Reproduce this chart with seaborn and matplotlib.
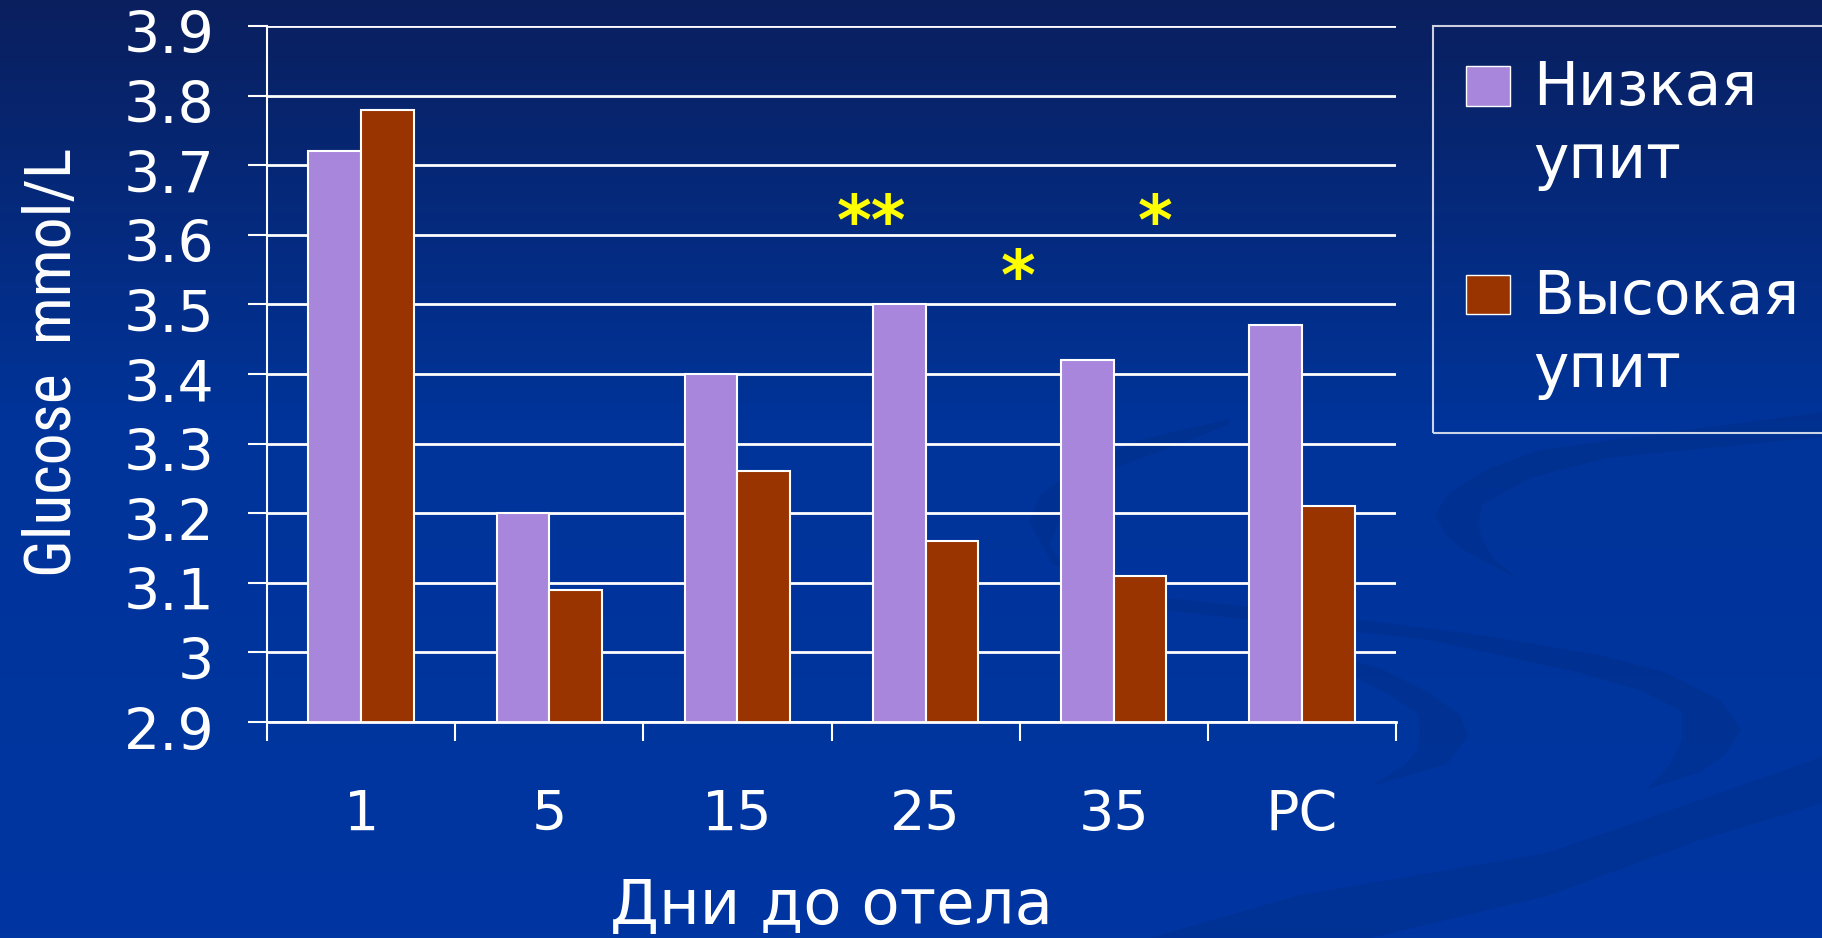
import numpy as np
import pandas as pd
import matplotlib
matplotlib.use("Agg")
import matplotlib.pyplot as plt
import seaborn as sns
from matplotlib.patches import Rectangle, PathPatch
from matplotlib.path import Path
from matplotlib.legend_handler import HandlerPatch
from matplotlib import font_manager as fm
from matplotlib.colors import LinearSegmentedColormap
from matplotlib.transforms import ScaledTranslation

# ---- data ----
days = ["1", "5", "15", "25", "35", "PC"]
low_condition = [3.72, 3.20, 3.40, 3.50, 3.42, 3.47]
high_condition = [3.78, 3.09, 3.26, 3.16, 3.11, 3.21]
group_names = ["Низкая\nупит", "Высокая\nупит"]
group_colors = ["#A886DC", "#993300"]
y_ticks = [2.9, 3.0, 3.1, 3.2, 3.3, 3.4, 3.5, 3.6, 3.7, 3.8, 3.9]
y_tick_labels = ["2.9", "3", "3.1", "3.2", "3.3", "3.4", "3.5", "3.6", "3.7", "3.8", "3.9"]
sig_marks = ["**", "*", "*"]
sig_x = [2.71, 3.49, 4.22]
sig_y = [3.614, 3.535, 3.614]

df = pd.DataFrame({
    "day": days * 2,
    "glucose": low_condition + high_condition,
    "group": [group_names[0]] * len(days) + [group_names[1]] * len(days),
})

sns.set_theme(style="white")
plt.rcParams["font.family"] = ["DejaVu Sans"]


def condensed_font():
    """Pick a narrow sans face for the rotated axis title, if one is installed."""
    order = ["Liberation Sans Narrow", "Roboto Condensed", "Open Sans Condensed",
             "Noto Sans", "Open Sans", "Roboto", "DejaVu Sans"]
    cands = []
    for f in fm.fontManager.ttflist:
        narrow = (f.stretch in ("condensed", "semi-condensed", "extra-condensed")
                  or "Narrow" in f.name or "Condensed" in f.name)
        if narrow and f.style == "normal" and f.weight in (400, "normal", "regular", "book"):
            rank = order.index(f.name) if f.name in order else len(order)
            cands.append((rank, f.fname))
    if cands:
        cands.sort()
        return fm.FontProperties(fname=cands[0][1])
    return fm.FontProperties(family="Liberation Sans")


W, H = 1822, 938
fig = plt.figure(figsize=(W / 100, H / 100), dpi=100)

# ---- slide background: vertical gradient with faint swooshes ----
bg = fig.add_axes([0, 0, 1, 1], zorder=-10)
cmap = LinearSegmentedColormap.from_list(
    "slide", [(0.0, "#0a1f5e"), (0.45, "#00349a"), (1.0, "#0036a2")])
grad = np.linspace(0, 1, 256).reshape(-1, 1)
bg.imshow(grad, cmap=cmap, aspect="auto", extent=[0, W, H, 0])
bg.set_xlim(0, W)
bg.set_ylim(H, 0)
bg.axis("off")

swoosh_color = "#002a80"
swooshes = [
    # thin crescent at right, below the legend
    [(1822, 412), (1665, 433), (1540, 450), (1488, 469), (1450, 492), (1435, 515),
     (1447, 536), (1465, 551), (1518, 579),
     (1495, 560), (1482, 540), (1479, 522), (1482, 505), (1530, 478), (1606, 458),
     (1822, 437)],
    # S-shaped band sweeping behind the bars and out to the right
    [(1229, 419), (1140, 440), (1076, 469), (1040, 495), (1029, 522), (1053, 565),
     (1147, 596), (1300, 612), (1488, 636), (1600, 655), (1665, 672), (1720, 700),
     (1741, 729), (1725, 755), (1700, 772), (1647, 789),
     (1670, 765), (1682, 740), (1682, 711), (1640, 690), (1576, 672), (1429, 640),
     (1250, 620), (1147, 608), (1075, 585), (1050, 545), (1065, 505), (1110, 470),
     (1229, 425)],
    # crescent under the right-most group
    [(1312, 650), (1380, 668), (1429, 693), (1460, 715), (1468, 736), (1447, 764),
     (1371, 786),
     (1405, 765), (1418, 750), (1420, 730), (1418, 714), (1390, 695), (1359, 679),
     (1312, 661)],
    # long diagonal band near the bottom
    [(1150, 938), (1300, 895), (1547, 853), (1700, 800), (1822, 757),
     (1822, 803), (1700, 840), (1547, 896), (1371, 938)],
]
for pts in swooshes:
    codes = [Path.MOVETO] + [Path.LINETO] * (len(pts) - 1) + [Path.CLOSEPOLY]
    path = Path(pts + [pts[0]], codes)
    bg.add_patch(PathPatch(path, facecolor=swoosh_color, edgecolor="none", alpha=0.35))

# ---- chart ----
ax = fig.add_axes([267 / W, 1 - 722 / H, (1396 - 267) / W, (722 - 26) / H])
ax.set_facecolor("none")

sns.barplot(data=df, x="day", y="glucose", hue="group", hue_order=group_names,
            palette=group_colors, saturation=1, width=0.56,
            edgecolor="white", linewidth=1.5, legend=False, ax=ax)

ax.set_ylim(2.9, 3.9)
ax.set_xlim(-0.5, len(days) - 0.5)

ax.set_yticks(y_ticks)
ax.set_yticklabels(y_tick_labels)
ax.yaxis.grid(True, color="white", linewidth=2)
ax.xaxis.grid(False)
ax.set_axisbelow(True)

ax.set_xticks(np.arange(-0.5, len(days), 1.0))
ax.set_xticklabels([])
ax.set_xticks(np.arange(len(days)), minor=True)
ax.set_xticklabels(days, minor=True)

ax.tick_params(axis="x", which="major", direction="out", length=13.5, width=1.5,
               color="white", bottom=True)
ax.tick_params(axis="x", which="minor", length=0, pad=47.5, labelsize=40,
               labelcolor="white", bottom=True)
ax.tick_params(axis="y", which="major", direction="out", length=13.5, width=1.5,
               color="white", pad=24.5, labelsize=41, labelcolor="white", left=True)

# value labels sit slightly below their grid lines
down = ScaledTranslation(0, -6 / 100, fig.dpi_scale_trans)
for lab in ax.get_yticklabels():
    lab.set_transform(lab.get_transform() + down)

for s in ["top", "right"]:
    ax.spines[s].set_visible(False)
ax.spines["left"].set_color("white")
ax.spines["left"].set_linewidth(1.5)
ax.spines["bottom"].set_color("white")
ax.spines["bottom"].set_linewidth(2)

ax.set_xlabel("Дни до отела", fontsize=45, color="white", labelpad=25,
              family="DejaVu Sans")

# rotated axis title in a narrow face, sized to span ~430 px
ylab_font = condensed_font()
ylab_font.set_size(50)
ylab = ax.set_ylabel("Glucose  mmol/L", color="white", fontproperties=ylab_font)
ax.yaxis.set_label_coords(-0.162, 0.517)
fig.canvas.draw()
span = ylab.get_window_extent().height
if span > 430:
    ylab.set_fontsize(50 * 430 / span)

# significance marks
for mark, xm, ym in zip(sig_marks, sig_x, sig_y):
    ax.text(xm, ym, mark, color="#FFFF00", fontsize=48, fontweight="bold",
            ha="center", va="center", family="DejaVu Sans")


# ---- legend ----
def first_line_patch(legend, orig_handle, xdescent, ydescent, width, height, fontsize):
    return Rectangle((-xdescent, -ydescent + 0.69 * fontsize), width, height)


handles = [Rectangle((0, 0), 1, 1, facecolor=c, edgecolor="white", linewidth=1)
           for c in group_colors]
leg = ax.legend(handles, group_names, loc="upper left",
                bbox_to_anchor=(1433 / W, 1 - 26 / H), bbox_transform=fig.transFigure,
                borderaxespad=0, frameon=True, fancybox=False,
                prop={"family": "DejaVu Sans", "size": 43}, labelcolor="white",
                handlelength=0.74, handleheight=0.65, handletextpad=0.39,
                borderpad=0.55, labelspacing=1.28,
                handler_map={Rectangle: HandlerPatch(patch_func=first_line_patch)})
for t in leg.get_texts():
    t.set_linespacing(1.31)
leg.get_frame().set_edgecolor("white")
leg.get_frame().set_facecolor("none")
leg.get_frame().set_linewidth(1.5)

fig.savefig("out.png", dpi=100)
